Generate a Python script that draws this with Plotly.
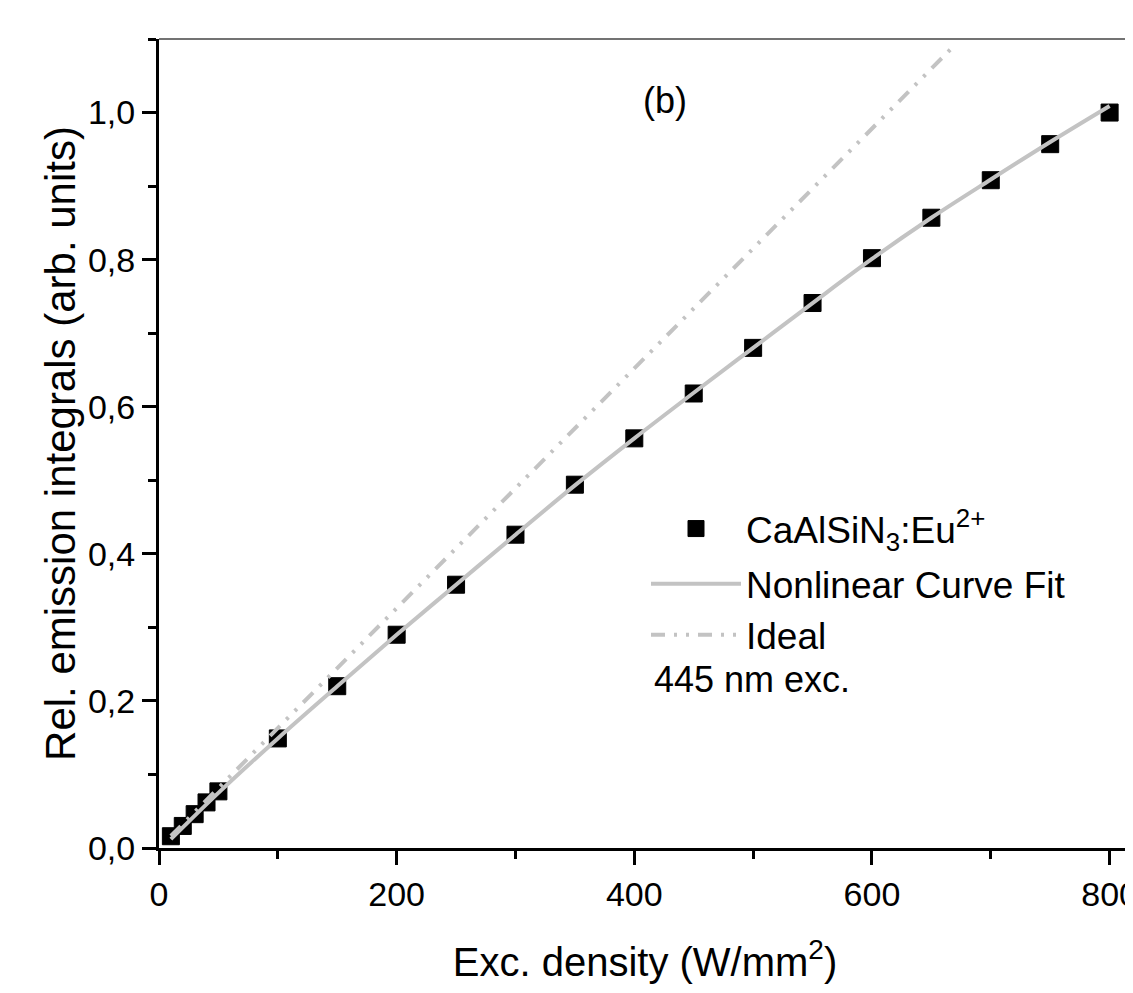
import plotly.graph_objects as go

# ---- data ----
exc_density = [10, 20, 30, 40, 50, 100, 150, 200, 250, 300, 350, 400,
               450, 500, 550, 600, 650, 700, 750, 800]
rel_emission = [0.016, 0.030, 0.046, 0.062, 0.077, 0.149, 0.220, 0.290,
                0.358, 0.426, 0.494, 0.557, 0.618, 0.680, 0.741, 0.802,
                0.857, 0.908, 0.957, 1.000]

fit_x = [10, 50, 100, 150, 200, 250, 300, 350, 400, 450, 500, 550,
         600, 650, 700, 750, 800]
fit_y = [0.012, 0.075, 0.149, 0.220, 0.290, 0.358, 0.426, 0.493, 0.557,
         0.619, 0.680, 0.741, 0.801, 0.857, 0.909, 0.960, 1.009]

ideal_x = [10, 668]
ideal_y = [0.0163, 1.089]

x_ticks = [0, 200, 400, 600, 800]
y_ticks = [0.0, 0.2, 0.4, 0.6, 0.8, 1.0]

FONT = "Liberation Sans, Arial, sans-serif"
GREY = "#c3c3c3"

# page has an 8px body margin; figure coordinates are offset accordingly
OFF = 8
L, T = 159 - OFF, 39 - OFF
PW, PH = 972, 809
W, H = 1125, 985


def px_x(px):
    return (px - OFF - L) / PW


def px_y(py):
    return 1 - (py - OFF - T) / PH


fig = go.Figure()
fig.add_trace(go.Scatter(
    x=exc_density, y=rel_emission, mode="markers",
    name="CaAlSiN<sub>3</sub>:Eu<sup>2+</sup>", legendgroup="a",
    marker=dict(symbol="square", size=17, color="black",
                line=dict(color="black", width=1)),
))
fig.add_trace(go.Scatter(
    x=fit_x, y=fit_y, mode="lines", name="Nonlinear Curve Fit",
    legendgroup="b",
    line=dict(color=GREY, width=4, shape="spline"),
))
fig.add_trace(go.Scatter(
    x=ideal_x, y=ideal_y, mode="lines", name="Ideal", legendgroup="b",
    line=dict(color=GREY, width=4, dash="14px,9px,3px,9px,3px,9px"),
))

fig.update_layout(
    width=W, height=H,
    margin=dict(l=L, r=W - L - PW, t=T, b=H - T - PH, autoexpand=False),
    paper_bgcolor="white", plot_bgcolor="white",
    separators=",.",
    font=dict(family=FONT, color="black", size=34),
    showlegend=True,
    legend=dict(
        x=px_x(646), xanchor="left", y=px_y(498), yanchor="top",
        bgcolor="rgba(0,0,0,0)", borderwidth=0,
        font=dict(family=FONT, size=37, color="black"),
        itemwidth=90, tracegroupgap=4, traceorder="grouped",
    ),
)

fig.update_xaxes(
    range=[0, 818], tickvals=x_ticks, showgrid=False, zeroline=False,
    showline=True, linewidth=3, linecolor="black",
    ticks="outside", ticklen=14, tickwidth=3, tickcolor="black",
    minor=dict(dtick=100, ticks="outside", ticklen=8, tickwidth=3,
               tickcolor="black", showgrid=False),
    tickfont=dict(family=FONT, size=34),
    ticklabeloverflow="allow", automargin=False,
    title=dict(text="Exc. density (W/mm<sup>2</sup>)",
               font=dict(family=FONT, size=40), standoff=37),
)
fig.update_yaxes(
    range=[0, 1.1], tickvals=y_ticks, tickformat=".1f",
    showgrid=False, zeroline=False,
    showline=True, linewidth=3, linecolor="black",
    ticks="outside", ticklen=14, tickwidth=3, tickcolor="black",
    minor=dict(dtick=0.1, ticks="outside", ticklen=8, tickwidth=3,
               tickcolor="black", showgrid=False),
    tickfont=dict(family=FONT, size=34), automargin=False,
    title=dict(text="Rel. emission integrals (arb. units)",
               font=dict(family=FONT, size=42), standoff=0),
)

# thin frame on top and right
fig.add_shape(type="line", xref="paper", yref="paper", x0=0, x1=1, y0=1, y1=1,
              line=dict(color="#444444", width=1.5))
fig.add_shape(type="line", xref="paper", yref="paper", x0=1, x1=1, y0=0, y1=1,
              line=dict(color="#444444", width=1.5))

fig.add_annotation(text="(b)", xref="paper", yref="paper",
                   x=px_x(665), y=px_y(100), xanchor="center", yanchor="middle",
                   showarrow=False, font=dict(family=FONT, size=36))
fig.add_annotation(text="445 nm exc.", xref="paper", yref="paper",
                   x=px_x(652), y=px_y(679), xanchor="left", yanchor="middle",
                   showarrow=False, font=dict(family=FONT, size=36))

fig.write_html("out.html")
